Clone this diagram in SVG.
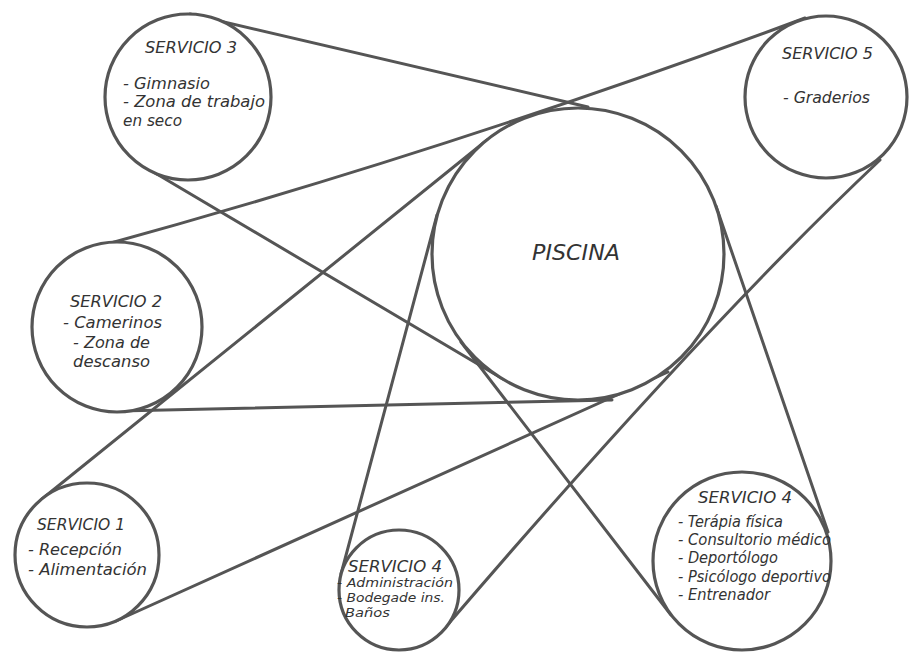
<svg xmlns="http://www.w3.org/2000/svg" width="910" height="655" viewBox="0 0 910 655">
  <style>
    .bg { fill: #ffffff; }
    .link { fill: none; stroke: #555555; stroke-width: 3; stroke-linecap: round; }
    .node { fill: #ffffff; stroke: #555555; stroke-width: 3.2; }
    text { font-family: "DejaVu Sans", "Open Sans", "Liberation Sans", sans-serif; font-style: italic; font-weight: 200; fill: #333333; }
    .title { font-size: 15px; }
    .item { font-size: 15px; }
    .small { font-size: 12.5px; }
    .big { font-size: 22px; }
  </style>

  <rect class="bg" x="0" y="0" width="910" height="655"/>

  <!-- belt-like connectors, each tangent to the two circles it joins -->
  <g id="connectors">
    <path class="link" d="M190,14 L588,107"/>
    <path class="link" d="M100,246 Q450,150 805,18"/>
    <path class="link" d="M119,411 L612,400"/>
    <path class="link" d="M116,621 L668,372"/>
    <path class="link" d="M880,160 Q700,330 444,629"/>
    <path class="link" d="M145,167 L503,379"/>
    <path class="link" d="M42,499 L487,140"/>
    <path class="link" d="M341,574 L437,215"/>
    <path class="link" d="M461,342 L671,615"/>
    <path class="link" d="M716,206 L828,532"/>
  </g>

  <g id="piscina">
    <circle class="node" cx="578" cy="254" r="146"/>
    <text class="big" x="532" y="260" textLength="88" lengthAdjust="spacingAndGlyphs">PISCINA</text>
  </g>

  <g id="servicio3">
    <circle class="node" cx="188" cy="97" r="83"/>
    <text class="title" x="145" y="53" textLength="92" lengthAdjust="spacingAndGlyphs">SERVICIO 3</text>
    <text class="item" x="123" y="89" textLength="87" lengthAdjust="spacingAndGlyphs">- Gimnasio</text>
    <text class="item" x="123" y="107" textLength="142" lengthAdjust="spacingAndGlyphs">- Zona de trabajo</text>
    <text class="item" x="123" y="126" textLength="59" lengthAdjust="spacingAndGlyphs">en seco</text>
  </g>

  <g id="servicio5">
    <circle class="node" cx="826" cy="97" r="81"/>
    <text class="title" x="782" y="59" textLength="91" lengthAdjust="spacingAndGlyphs">SERVICIO 5</text>
    <text class="item" x="783" y="103" textLength="87" lengthAdjust="spacingAndGlyphs">- Graderios</text>
  </g>

  <g id="servicio2">
    <circle class="node" cx="117" cy="327" r="85"/>
    <text class="title" x="70" y="307" textLength="92" lengthAdjust="spacingAndGlyphs">SERVICIO 2</text>
    <text class="item" x="63" y="328" textLength="99" lengthAdjust="spacingAndGlyphs">- Camerinos</text>
    <text class="item" x="73" y="348" textLength="77" lengthAdjust="spacingAndGlyphs">- Zona de</text>
    <text class="item" x="73" y="367" textLength="77" lengthAdjust="spacingAndGlyphs">descanso</text>
  </g>

  <g id="servicio1">
    <circle class="node" cx="87" cy="555" r="72"/>
    <text class="title" x="37" y="530" textLength="88" lengthAdjust="spacingAndGlyphs">SERVICIO 1</text>
    <text class="item" x="28" y="555" textLength="94" lengthAdjust="spacingAndGlyphs">- Recepción</text>
    <text class="item" x="28" y="575" textLength="119" lengthAdjust="spacingAndGlyphs">- Alimentación</text>
  </g>

  <g id="servicio4-admin">
    <circle class="node" cx="399" cy="590" r="60"/>
    <text class="title" x="348" y="572" textLength="94" lengthAdjust="spacingAndGlyphs">SERVICIO 4</text>
    <text class="small" x="337" y="587" textLength="116" lengthAdjust="spacingAndGlyphs">- Administración</text>
    <text class="small" x="337" y="602" textLength="108" lengthAdjust="spacingAndGlyphs">- Bodegade ins.</text>
    <text class="small" x="345" y="617" textLength="45" lengthAdjust="spacingAndGlyphs">Baños</text>
  </g>

  <g id="servicio4-salud">
    <circle class="node" cx="742" cy="561" r="89"/>
    <text class="title" x="698" y="503" textLength="94" lengthAdjust="spacingAndGlyphs">SERVICIO 4</text>
    <text class="item" x="678" y="527" textLength="105" lengthAdjust="spacingAndGlyphs">- Terápia física</text>
    <text class="item" x="678" y="545" textLength="153" lengthAdjust="spacingAndGlyphs">- Consultorio médico</text>
    <text class="item" x="678" y="563" textLength="100" lengthAdjust="spacingAndGlyphs">- Deportólogo</text>
    <text class="item" x="678" y="582" textLength="153" lengthAdjust="spacingAndGlyphs">- Psicólogo deportivo</text>
    <text class="item" x="678" y="600" textLength="92" lengthAdjust="spacingAndGlyphs">- Entrenador</text>
  </g>
</svg>
